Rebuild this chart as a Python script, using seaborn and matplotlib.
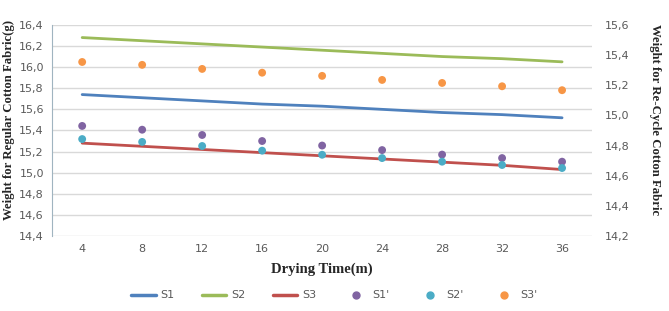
import pandas as pd
import matplotlib.pyplot as plt
import seaborn as sns
from matplotlib.ticker import FuncFormatter, MultipleLocator

times = ['4', '8', '12', '16', '20', '24', '28', '32', '36']

# regular cotton (left axis)
s1 = [15.74, 15.71, 15.68, 15.65, 15.63, 15.60, 15.57, 15.55, 15.52]
s2 = [16.28, 16.25, 16.22, 16.19, 16.16, 16.13, 16.10, 16.08, 16.05]
s3 = [15.28, 15.25, 15.22, 15.19, 15.16, 15.13, 15.10, 15.07, 15.03]

# re-cycle cotton (right axis)
s1p = [14.93, 14.905, 14.87, 14.83, 14.80, 14.77, 14.74, 14.717, 14.693]
s2p = [14.843, 14.824, 14.797, 14.766, 14.739, 14.717, 14.693, 14.671, 14.651]
s3p = [15.354, 15.335, 15.308, 15.283, 15.262, 15.235, 15.215, 15.193, 15.167]

line_colors = {'S1': '#4F81BD', 'S2': '#9BBB59', 'S3': '#C0504D'}
dot_colors = {"S1'": '#8064A2', "S2'": '#4BACC6', "S3'": '#F79646'}

lines = pd.DataFrame({'time': times * 3,
                      'weight': s1 + s2 + s3,
                      'series': ['S1'] * 9 + ['S2'] * 9 + ['S3'] * 9})
dots = pd.DataFrame({'time': times * 3,
                     'weight': s1p + s2p + s3p,
                     'series': ["S1'"] * 9 + ["S2'"] * 9 + ["S3'"] * 9})

sns.set_style('white')
fig = plt.figure(figsize=(6.69, 3.11), dpi=100)
ax = fig.add_axes([0.078, 0.241, 0.807, 0.679])

sns.lineplot(data=lines, x='time', y='weight', hue='series', palette=line_colors,
             linewidth=2, ax=ax, legend=False, sort=False)
ax2 = ax.twinx()
sns.scatterplot(data=dots, x='time', y='weight', hue='series', palette=dot_colors,
                s=32, edgecolor='none', ax=ax2, legend=False)

comma = FuncFormatter(lambda v, p: f'{v:.1f}'.replace('.', ','))
ax.set_ylim(14.4, 16.4)
ax.yaxis.set_major_locator(MultipleLocator(0.2))
ax.yaxis.set_major_formatter(comma)
ax2.set_ylim(14.2, 15.6)
ax2.yaxis.set_major_locator(MultipleLocator(0.2))
ax2.yaxis.set_major_formatter(comma)
ax.set_xlim(-0.5, 8.5)

ax.grid(axis='y', color='#d9d9d9', linewidth=1)
for a in (ax, ax2):
    for side in ['top', 'right', 'bottom', 'left']:
        a.spines[side].set_visible(False)
ax.spines['left'].set_visible(True)
ax.spines['left'].set_color('#a0b4c0')
ax.tick_params(axis='both', length=0, labelsize=8, labelcolor='#595959', pad=6)
ax2.tick_params(axis='y', length=0, labelsize=8, labelcolor='#595959', pad=9)

serif = {'family': 'Liberation Serif', 'weight': 'bold', 'size': 9.2}
ax.set_xlabel('Drying Time(m)', fontdict={**serif, 'size': 10.5}, labelpad=6)
ax.set_ylabel('Weight for Regular Cotton Fabric(g)', fontdict=serif)
ax.yaxis.set_label_coords(-0.068, 0.55)
ax2.set_ylabel('Weight for Re-Cycle Cotton Fabric', fontdict=serif, rotation=270)
ax2.yaxis.set_label_coords(1.127, 0.55)

handles = [plt.Line2D([], [], color=c, linewidth=2.5) for c in line_colors.values()]
handles += [plt.Line2D([], [], color=c, marker='o', linestyle='none', markersize=5)
            for c in dot_colors.values()]
labels = list(line_colors) + list(dot_colors)
fig.legend(handles, labels, loc='center', bbox_to_anchor=(0.5, 0.05), ncol=6,
           frameon=False, fontsize=8, labelcolor='#595959', handlelength=2.2,
           columnspacing=2.5, handletextpad=0.4)

fig.savefig('out.png', dpi=100)
